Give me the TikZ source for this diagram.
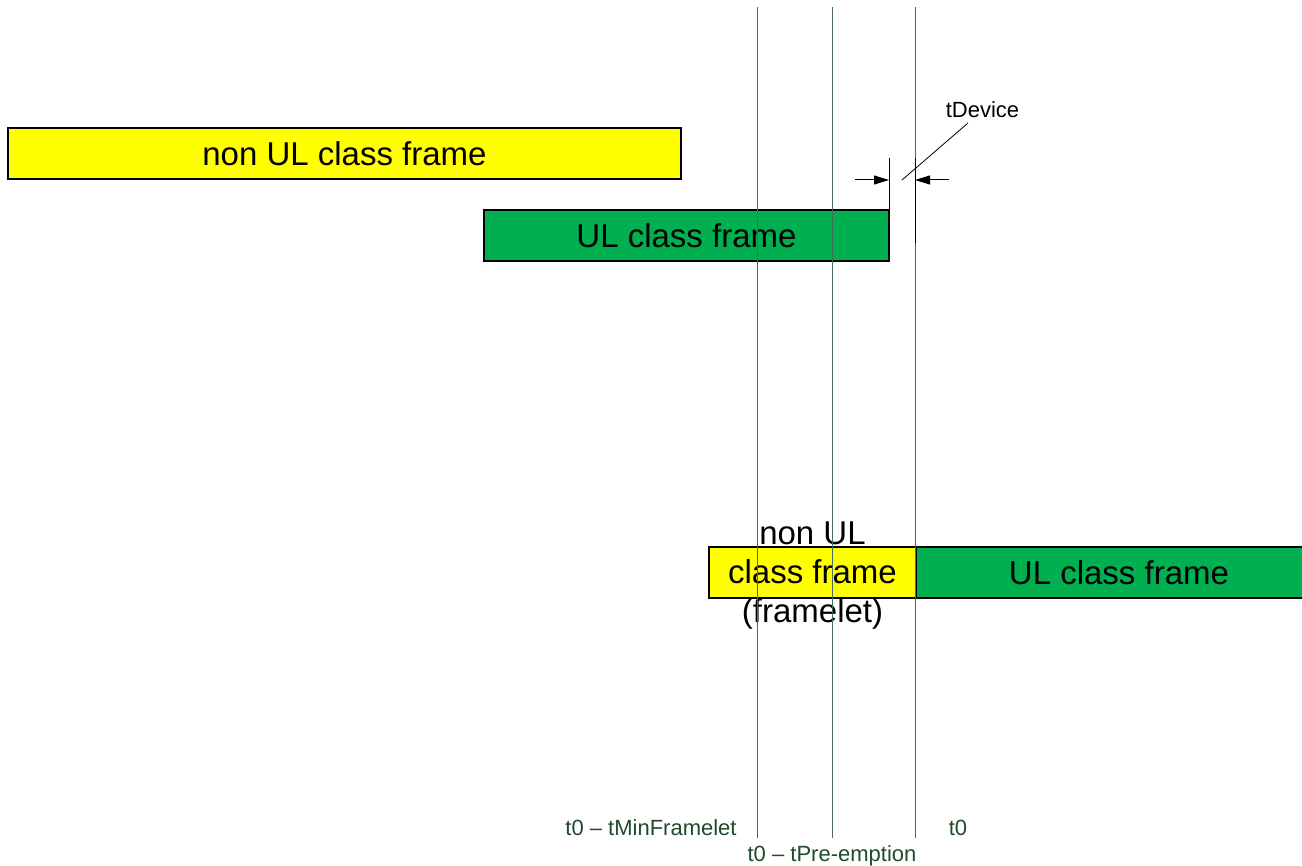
\documentclass[tikz,border=0pt]{standalone}
\usepackage{fontspec}
\setmainfont{Liberation Sans}
\usetikzlibrary{arrows.meta}
\definecolor{frameyellow}{RGB}{255,255,0}
\definecolor{framegreen}{RGB}{0,176,80}
\definecolor{timeline}{RGB}{70,110,90}
\definecolor{timelabel}{RGB}{30,75,45}
\tikzset{
  framebox/.style={draw=black, line width=1.5pt, inner sep=0pt, outer sep=0pt,
    minimum height=51pt, font=\fontsize{33}{38}\selectfont},
  ybox/.style={framebox, fill=frameyellow},
  gbox/.style={framebox, fill=framegreen},
  vline/.style={draw=timeline, line width=1pt},
  tlabel/.style={text=timelabel, font=\fontsize{22}{26}\selectfont, inner sep=0pt},
  dimline/.style={draw=black, line width=1pt},
  dimarrow/.style={draw=black, line width=1pt, -{Triangle[length=15pt,width=9pt]}},
}
\begin{document}
\begin{tikzpicture}[x=1pt,y=-1pt]
\useasboundingbox (0,0) rectangle (1302,866);

% frames
\node[ybox, minimum width=673pt] (nonul) at (344.5,153.5) {non UL class frame};
\node[gbox, minimum width=405pt] (ul) at (686.5,235.5) {UL class frame};
\node[ybox, minimum width=207pt] (framelet) at (812.5,572.5) {};
\node[gbox, minimum width=406pt] (ul2) at (1119,572.5) {UL class frame};
\node[font=\fontsize{33}{39}\selectfont, align=center, inner sep=0pt] (frameletText)
  at (812.5,576) {non UL\\class frame\\(framelet)};

% timeline markers
\coordinate (a1) at (757,7);   \coordinate (a2) at (757,838);
\coordinate (b1) at (832,7);   \coordinate (b2) at (832,838);
\coordinate (c1) at (915,7);   \coordinate (c2) at (915,838);
\draw[vline] (a1) -- (a2);
\draw[vline] (b1) -- (b2);
\draw[vline] (c1) -- (c2);

\node[tlabel] (lblMin) at (651,828) {t0 – tMinFramelet};
\node[tlabel] (lblPre) at (832,856) {t0 – tPre-emption};
\node[tlabel] (lblT0) at (958,828) {t0};

% tDevice dimension
\coordinate (e1) at (889,158); \coordinate (e2) at (ul.north east);
\coordinate (f1) at (915,158); \coordinate (f2) at (915,243);
\draw[dimline] (e1) -- (e2);
\draw[dimline] (f1) -- (f2);
\coordinate (la) at (855,180); \coordinate (lb) at (889,180);
\coordinate (ra) at (949,180); \coordinate (rb) at (915,180);
\draw[dimarrow] (la) -- (lb);
\draw[dimarrow] (ra) -- (rb);
\node[font=\fontsize{22}{26}\selectfont, inner sep=0pt] (tdev) at (982.5,110) {tDevice};
\coordinate (lead1) at (902,180); \coordinate (lead2) at (968,123);
\draw[dimline, line width=0.8pt] (lead1) -- (lead2);
\end{tikzpicture}
\end{document}
